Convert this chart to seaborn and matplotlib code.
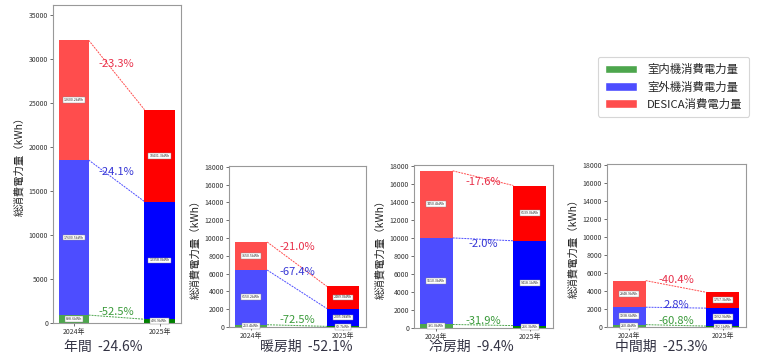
import matplotlib
matplotlib.use('Agg')
import matplotlib.pyplot as plt
import pandas as pd
import seaborn as sns
from matplotlib.patches import Patch

# ---------------- data ----------------
periods = ['年間', '暖房期', '冷房期', '中間期']
period_change = ['-24.6%', '-52.1%', '-9.4%', '-25.3%']
years = ['2024年', '2025年']

indoor_2024 = [898.6, 253.4, 391.0, 260.4]
indoor_2025 = [426.9, 69.7, 266.3, 102.1]
outdoor_2024 = [17600.5, 6150.2, 9610.3, 1938.6]
outdoor_2025 = [13358.0, 2005.0, 9418.1, 1992.9]
desica_2024 = [13600.2, 3150.5, 7450.4, 2948.9]
desica_2025 = [10431.3, 2489.0, 6139.0, 1757.3]

indoor_change = ['-52.5%', '-72.5%', '-31.9%', '-60.8%']
outdoor_change = ['-24.1%', '-67.4%', '-2.0%', '2.8%']
desica_change = ['-23.3%', '-21.0%', '-17.6%', '-40.4%']

legend_labels = ['室内機消費電力量', '室外機消費電力量', 'DESICA消費電力量']

# ---------------- style ----------------
sns.set_theme(style='white')
plt.rcParams['font.family'] = ['Noto Sans CJK JP', 'DejaVu Sans']

C_RED = ('#ff4d4d', '#ff0000')
C_BLUE = ('#4d4dff', '#0000ff')
C_GREEN = ('#4da64d', '#008000')
T_RED, T_BLUE, T_GREEN = '#e8304a', '#3535d5', '#3a9a3a'

W, H = 766, 364
fig = plt.figure(figsize=(W / 100, H / 100), dpi=100)
fig.patch.set_facecolor('white')

boxes = [(53, 5, 181, 323), (229, 166, 366, 327), (414, 165, 553, 328), (607, 164, 746, 327)]
ytops = [36100, 18100, 18100, 18100]
ysteps = [5000, 2000, 2000, 2000]
ymaxtick = [35000, 18000, 18000, 18000]
# label pixel offsets (red, blue, green) relative to line midpoints (positive = up)
label_off = [(11, 9, 5), (17, 17, 6), (-4, -5, 4), (6, 3, 4)]
title_x = [103, 306, 471, 661]
BW = 0.35

for i in range(4):
    l, t, r, b = boxes[i]
    ax = fig.add_axes([l / W, 1 - b / H, (r - l) / W, (b - t) / H])
    g = [indoor_2024[i], indoor_2025[i]]
    o = [outdoor_2024[i], outdoor_2025[i]]
    d = [desica_2024[i], desica_2025[i]]
    low = g
    mid = [g[k] + o[k] for k in range(2)]
    tot = [mid[k] + d[k] for k in range(2)]
    df = pd.DataFrame({'year': years, 'total': tot, 'mid': mid, 'low': low})
    for col, cols in (('total', C_RED), ('mid', C_BLUE), ('low', C_GREEN)):
        sns.barplot(data=df, x='year', y=col, hue='year',
                    palette=dict(zip(years, cols)), width=BW, dodge=False,
                    legend=False, ax=ax, linewidth=0, saturation=1)

    # value labels inside segments
    for k in range(2):
        for base, val in ((0, g[k]), (low[k], o[k]), (mid[k], d[k])):
            ax.text(k, base + val / 2, f'{val:.1f}kWh', ha='center', va='center',
                    fontsize=2.6, color='#333333',
                    bbox=dict(boxstyle='square,pad=0.25', fc='white', ec='#888888', lw=0.3))

    # connecting lines and change labels
    x0, x1 = BW / 2, 1 - BW / 2
    levels = [(tot, C_RED[0], T_RED, desica_change[i], label_off[i][0]),
              (mid, C_BLUE[0], T_BLUE, outdoor_change[i], label_off[i][1]),
              (low, C_GREEN[0], T_GREEN, indoor_change[i], label_off[i][2])]
    for ys, lc, tc, txt, off in levels:
        ax.plot([x0, x1], ys, color=lc, lw=0.7, ls=(0, (2, 1)))
        ax.annotate(txt, xy=(0.5, (ys[0] + ys[1]) / 2), xytext=(0, off),
                    textcoords='offset pixels', ha='center', va='center',
                    fontsize=8, color=tc)

    ax.set_xlim(-0.24, 1.25)
    ax.set_ylim(0, ytops[i])
    ax.set_yticks(list(range(0, ymaxtick[i] + 1, ysteps[i])))
    ax.set_xlabel('')
    ax.set_ylabel('総消費電力量（kWh）', fontsize=7.5, color='#222222', labelpad=3)
    ax.tick_params(axis='both', labelsize=5, length=2, width=0.5, pad=1.5,
                   colors='#333333', left=True, bottom=True)
    for s in ax.spines.values():
        s.set_color('#999999')
        s.set_linewidth(0.8)

    fig.text(title_x[i] / W, 1 - 347 / H, f'{periods[i]}  {period_change[i]}',
             ha='center', va='center', fontsize=10, color='#333344')

handles = [Patch(facecolor=C_GREEN[0]), Patch(facecolor=C_BLUE[0]), Patch(facecolor=C_RED[0])]
leg = fig.legend(handles, legend_labels, loc='upper left',
                 bbox_to_anchor=(598 / W, 1 - 57 / H), fontsize=8.2,
                 handlelength=2.8, handleheight=0.8, frameon=True, fancybox=True,
                 borderpad=0.6, labelspacing=0.55, handletextpad=0.9,
                 borderaxespad=0)
leg.get_frame().set_edgecolor('#cccccc')
leg.get_frame().set_linewidth(0.8)

fig.savefig('out.png', dpi=100, facecolor='white')
